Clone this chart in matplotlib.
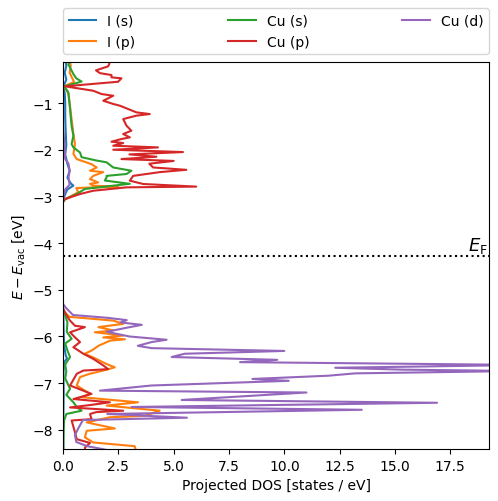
import numpy as np
import matplotlib
matplotlib.use("Agg")
import matplotlib.pyplot as plt

# projected DOS; upper block / lower block split by NaN
nan = np.nan

E_F = -4.27

# I (s)
is_E = [-0.05, -0.2, -0.35, -0.5, -0.64, -0.8, -1.0, -1.3, -1.6, -1.9, -2.1, -2.3, -2.45, -2.6, -2.72, -2.77,
        -2.85, -2.95, -3.05, -3.12, nan,
        -5.35, -5.6, -5.9, -6.2, -6.4, -6.47, -6.55, -6.8, -7.2, -7.6, -8.0, -8.45]
is_dos = [0.1, 0.15, 0.08, 0.15, 0.02, 0.08, 0.1, 0.1, 0.12, 0.15, 0.1, 0.2, 0.3, 0.2, 0.35, 0.47,
          0.2, 0.1, 0.03, 0.0, nan,
          0.0, 0.02, 0.03, 0.05, 0.12, 0.18, 0.05, 0.02, 0.03, 0.02, 0.01, 0.01]

# I (p)
ip_E = [-0.05, -0.2, -0.35, -0.5, -0.55, -0.64, -0.8, -1.0, -1.2, -1.4, -1.66, -1.88, -2.09, -2.2, -2.31,
        -2.38, -2.45, -2.48, -2.56, -2.63, -2.7, -2.73, -2.77, -2.79, -2.82, -2.91, -3.01, -3.08, nan,
        -5.45, -5.58, -5.66, -5.73, -5.8, -5.87, -5.91, -5.98, -6.02, -6.06, -6.09, -6.2, -6.3, -6.37,
        -6.45, -6.52, -6.59, -6.66, -6.73, -6.8, -6.87, -7.05, -7.23, -7.3, -7.41, -7.48, -7.59, -7.70,
        -7.73, -7.84, -7.97, -8.02, -8.16, -8.27, -8.35, -8.45]
ip_dos = [0.3, 0.35, 0.3, 0.45, 0.5, 0.05, 0.25, 0.3, 0.35, 0.4, 0.47, 0.54, 0.47, 0.62, 1.29,
          1.52, 1.22, 1.82, 1.37, 1.22, 1.59, 1.22, 1.37, 2.5, 0.6, 0.69, 0.3, 0.0, nan,
          0.0, 0.3, 2.27, 2.72, 1.6, 2.27, 1.44, 2.72, 1.82, 2.8, 2.12, 1.6, 1.3, 0.98,
          1.37, 1.67, 1.97, 2.34, 1.82, 1.2, 0.77, 0.62, 1.22, 0.84, 3.39, 1.97, 4.37, 3.69,
          2.12, 1.07, 2.34, 1.07, 0.99, 1.37, 3.24, 3.3]

# Cu (s)
cus_E = [-0.05, -0.17, -0.27, -0.38, -0.47, -0.54, -0.6, -0.64, -0.77, -0.95, -1.13, -1.3, -1.49, -1.7,
         -1.88, -1.95, -2.06, -2.16, -2.23, -2.27, -2.38, -2.45, -2.52, -2.56, -2.59, -2.66, -2.73, -2.77,
         -2.84, -2.95, -3.06, -3.12, nan,
         -5.4, -5.55, -5.7, -5.9, -6.05, -6.15, -6.3, -6.44, -6.6, -6.75, -6.9, -7.0, -7.12, -7.25,
         -7.41, -7.51, -7.59, -7.66, -7.8, -8.0, -8.2, -8.45]
cus_dos = [0.39, 0.24, 0.35, 0.47, 0.6, 0.84, 0.4, 0.05, 0.24, 0.28, 0.32, 0.35, 0.39, 0.47,
           0.39, 0.47, 0.77, 0.84, 1.5, 1.97, 2.27, 3.09, 2.87, 1.97, 1.97, 1.89, 3.02, 2.27,
           0.99, 0.62, 0.1, 0.0, nan,
           0.0, 0.1, 0.2, 0.17, 0.39, 0.1, 0.2, 0.32, 0.1, 0.15, 0.1, 0.2, 0.32, 0.15,
           0.47, 0.62, 0.84, 0.15, 0.05, 0.03, 0.02, 0.02]

# Cu (p)
cup_E = [-0.05, -0.165, -0.214, -0.30, -0.36, -0.40, -0.45, -0.47, -0.544, -0.642, -0.737, -0.807,
         -0.844, -0.951, -1.02, -1.057, -1.2, -1.236, -1.27, -1.343, -1.486, -1.593, -1.664, -1.735,
         -1.771, -1.828, -1.857, -1.914, -1.95, -2.0, -2.05, -2.1, -2.15, -2.2, -2.24, -2.3, -2.38,
         -2.43, -2.48, -2.56, -2.663, -2.734, -2.79, -2.806, -2.878, -2.949, -3.056, -3.12, nan,
         -5.4, -5.55, -5.65, -5.77, -5.8, -5.91, -6.0, -6.12, -6.23, -6.37, -6.48, -6.62, -6.7, -6.73,
         -6.8, -7.05, -7.23, -7.34, -7.41, -7.47, -7.52, -7.59, -7.62, -7.66, -7.77, -7.8, -8.05,
         -8.2, -8.28, -8.38, -8.45]
cup_dos = [2.1, 2.09, 2.04, 1.49, 1.67, 2.19, 2.19, 2.64, 2.49, 0.09, 1.37, 1.74,
           2.27, 1.82, 2.27, 2.57, 3.32, 3.92, 3.32, 2.72, 2.87, 3.09, 2.72, 3.02,
           2.64, 2.19, 2.72, 2.27, 4.29, 2.27, 5.42, 3.0, 4.22, 2.64, 5.0, 3.9, 4.07,
           5.57, 4.37, 3.17, 3.02, 3.62, 6.02, 2.87, 1.37, 0.77, 0.09, 0.0, nan,
           0.0, 0.17, 0.3, 0.54, 0.99, 0.32, 0.5, 0.77, 0.47, 0.92, 1.37, 1.82, 2.04, 0.92,
           0.62, 0.32, 1.29, 0.47, 2.12, 1.2, 0.32, 2.72, 1.5, 1.22, 1.29, 0.39, 0.54,
           0.62, 1.22, 0.99, 1.0]

# Cu (d)
cud_E = [-0.05, -1.5, -1.8, -2.2, -2.3, -2.45, -2.6, -2.75, -2.85, -3.0, -3.12, nan,
         -5.30, -5.37, -5.54, -5.60, -5.65, -5.70, -5.75, -5.82, -5.90, -6.00, -6.07, -6.12, -6.20,
         -6.25, -6.31, -6.37, -6.44, -6.50, -6.55, -6.61, -6.67, -6.71, -6.74, -6.79, -6.84, -6.91,
         -6.95, -7.05, -7.16, -7.20, -7.36, -7.42, -7.51, -7.57, -7.66, -7.74, -7.79, -7.96, -8.11,
         -8.26, -8.35, -8.45]
cud_dos = [0.0, 0.0, 0.05, 0.1, 0.25, 0.3, 0.25, 0.3, 0.1, 0.02, 0.0, nan,
           0.0, 0.1, 0.45, 2.0, 2.88, 2.6, 3.56, 2.8, 1.98, 3.0, 4.68, 4.0, 3.38,
           4.0, 10.0, 5.5, 4.91, 9.68, 8.0, 21.0, 12.3, 15.3, 20.5, 13.2, 12.0, 8.56,
           10.2, 4.0, 1.67, 11.0, 5.36, 16.9, 3.1, 13.5, 2.0, 5.6, 0.9, 0.7, 0.54,
           0.6, 1.1, 2.2]

labels = ["I (s)", "I (p)", "Cu (s)", "Cu (p)", "Cu (d)"]
series = [(is_dos, is_E), (ip_dos, ip_E), (cus_dos, cus_E), (cup_dos, cup_E), (cud_dos, cud_E)]

fig = plt.figure(figsize=(4.98, 5.02), dpi=100)
ax = fig.add_axes([0.1265, 0.1036, 0.8555, 0.771])

for (x, y), lab in zip(series, labels):
    ax.plot(x, y, label=lab)

ax.axhline(E_F, color="k", ls=":")
trans = matplotlib.transforms.blended_transform_factory(ax.transAxes, ax.transData)
ax.text(0.997, E_F + 0.02, r"$E_\mathrm{F}$", transform=trans, ha="right", va="bottom", fontsize=13)

ax.set_xlim(0, 19.25)
ax.set_ylim(-8.41, -0.12)
ax.set_xlabel("Projected DOS [states / eV]")
ax.set_ylabel(r"$E - E_\mathrm{vac}$ [eV]")
ax.legend(bbox_to_anchor=(0., 1.02, 1., .102), loc="lower left", ncol=3,
          mode="expand", borderaxespad=0.)

fig.savefig("out.png", dpi=100)
